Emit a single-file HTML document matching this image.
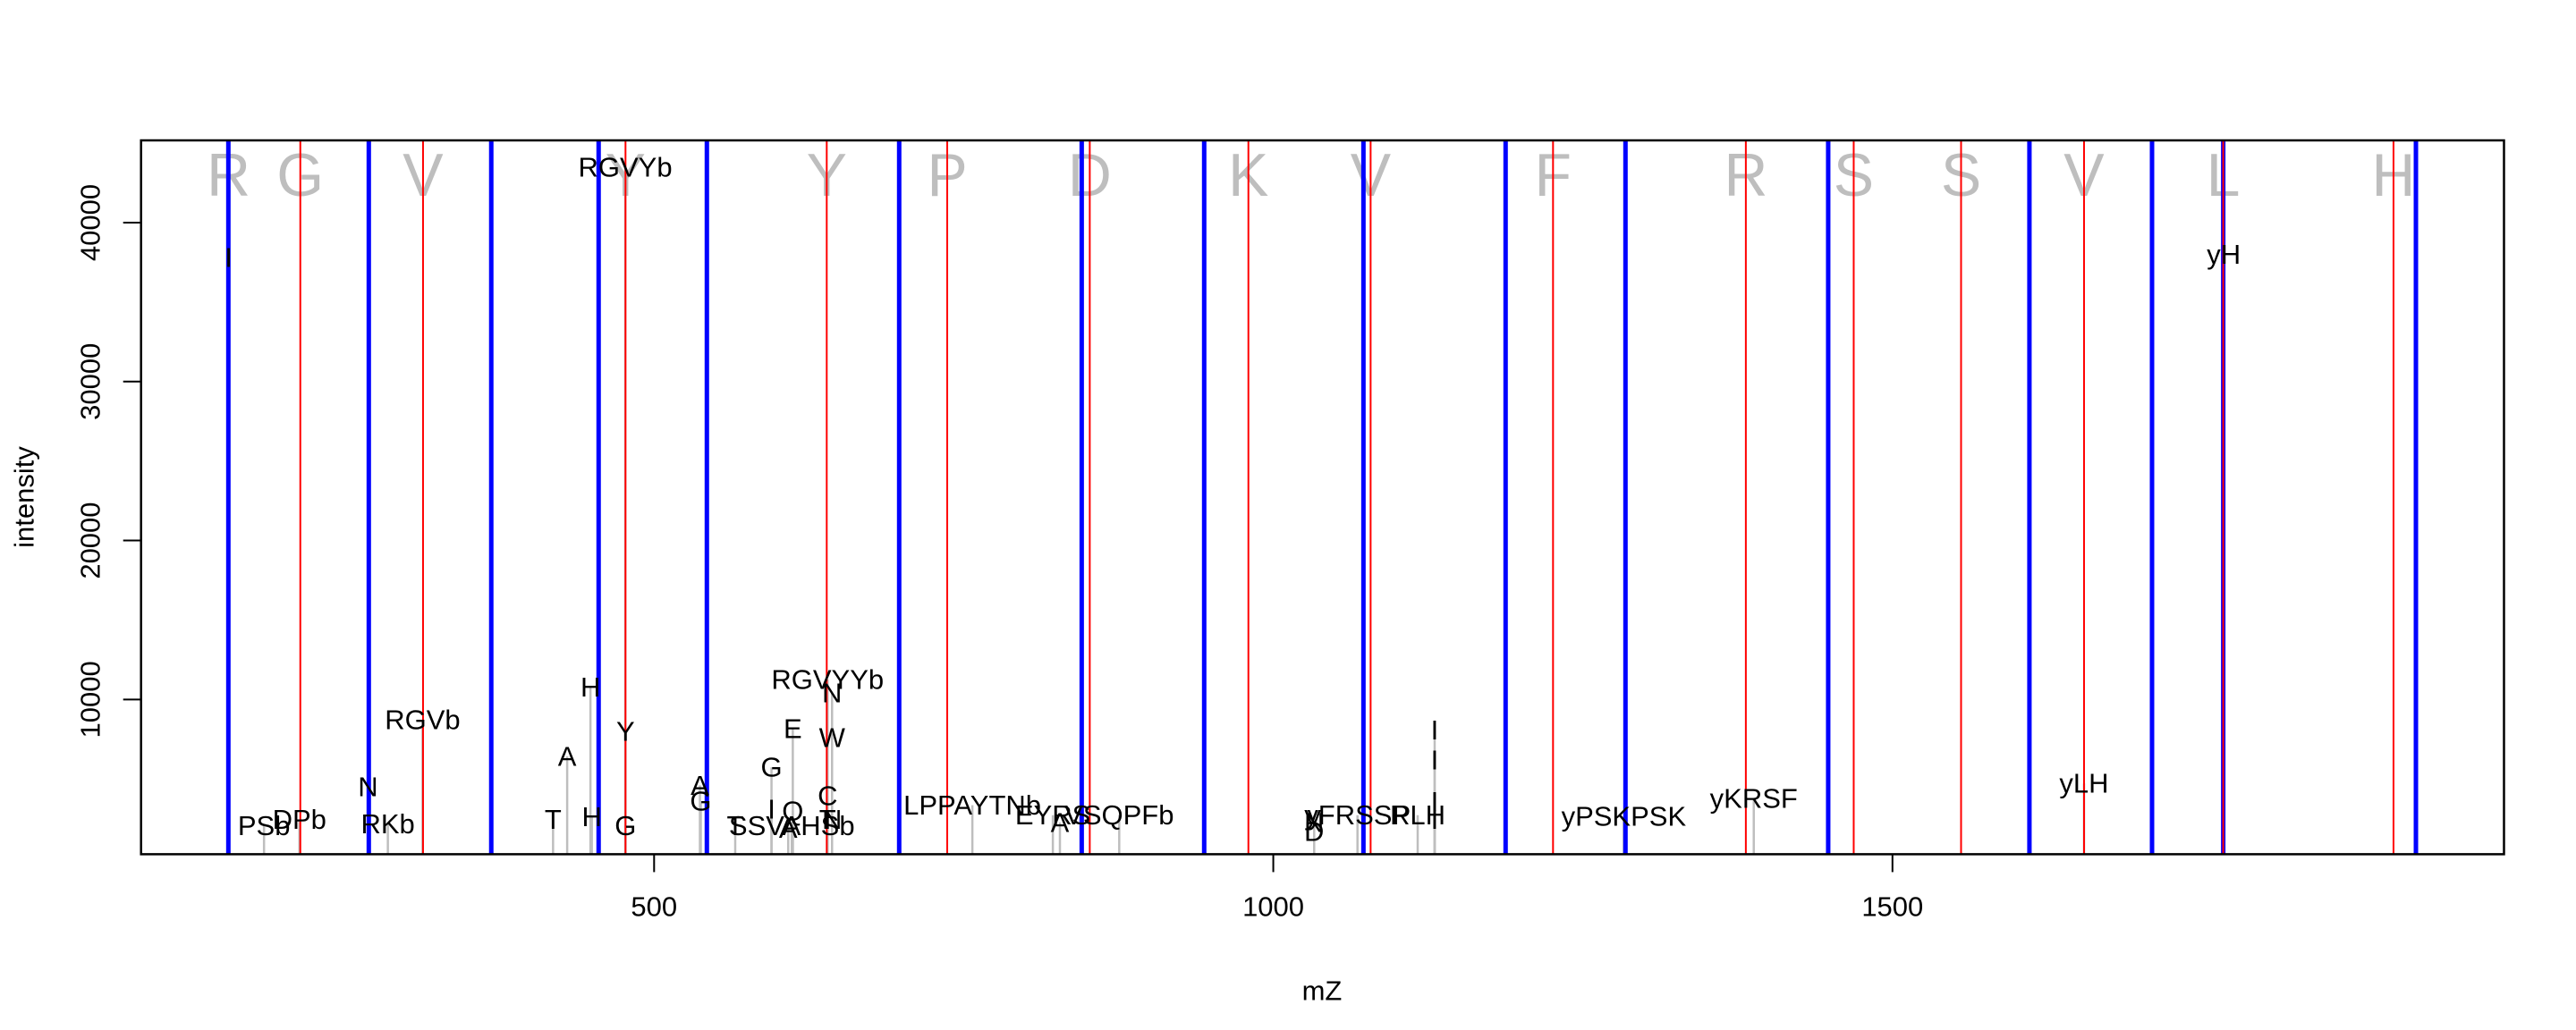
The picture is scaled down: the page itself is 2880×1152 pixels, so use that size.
<!DOCTYPE html>
<html><head><meta charset="utf-8">
<style>
html,body{margin:0;padding:0;background:#fff;}
svg{display:block;font-family:"Liberation Sans",Arial,sans-serif;}
</style></head>
<body>
<svg id="chart" width="2880" height="1152" viewBox="0 0 2880 1152" xmlns="http://www.w3.org/2000/svg">
<rect x="0" y="0" width="2880" height="1152" fill="#fff"/>
<g id="residue-layer"></g>
<g id="peak-layer"></g>
<g id="blue-layer"></g>
<g id="red-layer"></g>
<g id="label-layer"></g>
<rect x="157.7" y="157" width="2641.8" height="798.4" fill="none" stroke="#000" stroke-width="2.5"/>
<g id="axis-layer"></g>
<text x="1478" y="1108" font-size="31" text-anchor="middle" dominant-baseline="central">mZ</text>
<text x="27" y="556" font-size="31" text-anchor="middle" dominant-baseline="central" transform="rotate(-90 27 556)">intensity</text>
</svg>
<script>
// ---- data ----
const xTicks = [500, 1000, 1500];
const yTicks = [10000, 20000, 30000, 40000];
const blueMz = [156.2, 269.6, 368.5, 455.2, 542.6, 697.9, 845.3, 944.2, 1072.8, 1187.6, 1284.4, 1448.1, 1610.6, 1709.6, 1767.1, 1922.7];
const redMz = [214.3, 313.4, 476.9, 639.4, 736.7, 851.8, 979.9, 1078.6, 1225.9, 1381.6, 1468.7, 1555.4, 1654.7, 1767.1, 1904.6];
const residueLetters = ["R","G","V","Y","Y","P","D","K","V","F","R","S","S","V","L","H"];
const residueMz = [156.4, 214.3, 313.4, 476.9, 639.4, 736.7, 851.8, 979.9, 1078.6, 1225.9, 1381.6, 1468.7, 1555.4, 1654.7, 1767.1, 1904.6];
const peakMz = [156.4, 185, 213.6, 269, 285, 313, 418.4, 429.8, 448.6, 449.7, 476.7, 476.9, 476.9, 537, 537.7, 565.5, 611.2, 594.8, 594.8, 612, 608.3, 612, 640.1, 640.1, 643.7, 643.7, 643.7, 640.1, 757, 822, 827.7, 875.6, 1033, 1033, 1033, 1068, 1116.6, 1130.3, 1130.3, 1130.3, 1130.3, 1283, 1388, 1654.7, 1767.5];
const peakInt = [37810, 2070, 2440, 4500, 2160, 8720, 2440, 6420, 10790, 2630, 43480, 7980, 2070, 4600, 3610, 2070, 2070, 5730, 3100, 3000, 1880, 8160, 3940, 2440, 2440, 7600, 10410, 11260, 3350, 2720, 2260, 2720, 2720, 2260, 1690, 2720, 2720, 8070, 6190, 3570, 2440, 2650, 3770, 4720, 38000];
const peakLabels = ["I","PSb","DPb","N","RKb","RGVb","T","A","H","H","RGVYb","Y","G","A","G","T","SSVAHSb","G","I","Q","A","E","C","T","N","W","N","RGVYYb","LPPAYTNb","EYRS","A","VSQPFb","y","N","D","yFRSSP","RLH","I","I","I","I","yPSKPSK","yKRSF","yLH","yH"];

// ---- scales ----
const X0 = 731.3, XS = 1.3845;
const Y0 = 960.1, YS = 0.017777;
const PT = 157, PB = 955.4;
function xp(mz){ return X0 + (mz - 500) * XS; }
function yp(v){ return Y0 - v * YS; }
const NS = "http://www.w3.org/2000/svg";
function mk(tag, attrs, parent){ const e = document.createElementNS(NS, tag); for (const k in attrs) e.setAttribute(k, attrs[k]); parent.appendChild(e); return e; }

const resL = document.getElementById('residue-layer');
residueLetters.forEach((c, i) => {
  const t = mk('text', {x: xp(residueMz[i]), y: 219, 'font-size': 68, fill: '#bebebe', 'text-anchor': 'middle'}, resL);
  
  
  t.textContent = c;
});
const peakL = document.getElementById('peak-layer');
const labL = document.getElementById('label-layer');
peakMz.forEach((m, i) => {
  const l = mk('line', {x1: xp(m), x2: xp(m), y1: PB, y2: yp(peakInt[i]), stroke: '#bebebe', 'stroke-width': 2.5}, peakL);
  
  
  const t = mk('text', {x: xp(m), y: yp(peakInt[i]), 'font-size': 31, fill: '#000', 'text-anchor': 'middle', 'dominant-baseline': 'central'}, labL);
  
  
  t.textContent = peakLabels[i];
});
const blueL = document.getElementById('blue-layer');
blueMz.forEach(m => {
  const l = mk('line', {x1: xp(m), x2: xp(m), y1: PT, y2: PB, stroke: '#0000ff', 'stroke-width': 5}, blueL);
  
  
});
const redL = document.getElementById('red-layer');
redMz.forEach(m => {
  const l = mk('line', {x1: xp(m), x2: xp(m), y1: PT, y2: PB, stroke: '#ff0000', 'stroke-width': 2}, redL);
  
  
});
const ax = document.getElementById('axis-layer');
xTicks.forEach(v => {
  const l = mk('line', {x1: xp(v), x2: xp(v), y1: PB, y2: PB + 20, stroke: '#000', 'stroke-width': 2}, ax);
  
  
  const t = mk('text', {x: xp(v), y: 1014, 'font-size': 31, 'text-anchor': 'middle', 'dominant-baseline': 'central'}, ax);
  
  
  t.textContent = v;
});
yTicks.forEach(v => {
  const y = yp(v);
  const l = mk('line', {x1: 157.7, x2: 137.7, y1: y, y2: y, stroke: '#000', 'stroke-width': 2}, ax);
  
  
  const t = mk('text', {x: 101, y: y, 'font-size': 31, 'text-anchor': 'middle', 'dominant-baseline': 'central', transform: 'rotate(-90 101 ' + y + ')'}, ax);
  
  
  t.textContent = v;
});
</script>
</body></html>
